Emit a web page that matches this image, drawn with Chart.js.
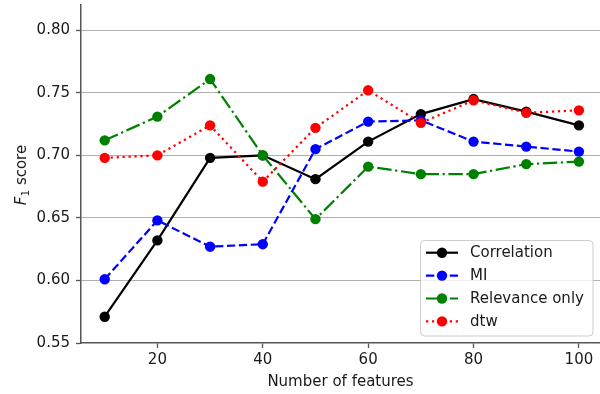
<!DOCTYPE html>
<html><head><meta charset="utf-8">
<script src="https://cdn.jsdelivr.net/npm/chart.js@4"></script>
<style>html,body{margin:0;padding:0;background:#fff;overflow:hidden}#wrap{width:600px;height:394px;position:relative}</style>
</head><body><div id="wrap"><canvas id="c" width="600" height="394"></canvas></div>
<script>
const features = [10, 20, 30, 40, 50, 60, 70, 80, 90, 100];
const correlation = [0.571, 0.632, 0.698, 0.700, 0.681, 0.711, 0.733, 0.745, 0.735, 0.724];
const mi = [0.601, 0.648, 0.627, 0.629, 0.705, 0.727, 0.728, 0.711, 0.707, 0.703];
const relevanceOnly = [0.712, 0.731, 0.761, 0.700, 0.649, 0.691, 0.685, 0.685, 0.693, 0.695];
const dtw = [0.698, 0.700, 0.724, 0.679, 0.722, 0.752, 0.726, 0.744, 0.734, 0.736];
const seriesNames = ['Correlation', 'MI', 'Relevance only', 'dtw'];
const xTicks = [20, 40, 60, 80, 100];
const yTicks = [0.55, 0.60, 0.65, 0.70, 0.75, 0.80];
const xLabel = 'Number of features';
const yLabelParts = ['F', '1', ' score'];

const FONT = "'DejaVu Sans', sans-serif";
const TXT = '#1a1a1a';
const SPINE = '#555555';
const LW = 2.2;
const PR = 5.2;

function pts(arr) { return features.map((x, i) => ({ x: x, y: arr[i] })); }

const datasets = [
  { label: seriesNames[0], data: pts(correlation), borderColor: '#000000', backgroundColor: '#000000', borderDash: [], order: 3 },
  { label: seriesNames[1], data: pts(mi), borderColor: '#0000ff', backgroundColor: '#0000ff', borderDash: [8.3, 3.6], order: 2 },
  { label: seriesNames[2], data: pts(relevanceOnly), borderColor: '#008000', backgroundColor: '#008000', borderDash: [14.4, 3.6, 2.25, 3.6], order: 1 },
  { label: seriesNames[3], data: pts(dtw), borderColor: '#ff0000', backgroundColor: '#ff0000', borderDash: [2.25, 3.7], order: 0 }
];

const extras = {
  id: 'extras',
  afterDraw(chart) {
    const ctx = chart.ctx;
    // y-axis title with subscript
    ctx.save();
    ctx.translate(26, 175);
    ctx.rotate(-Math.PI / 2);
    ctx.fillStyle = TXT;
    ctx.textBaseline = 'alphabetic';
    ctx.textAlign = 'left';
    const fF = 'italic 15px ' + FONT, fS = '10.5px ' + FONT, fN = '15px ' + FONT;
    ctx.font = fF; const w1 = ctx.measureText(yLabelParts[0]).width;
    ctx.font = fS; const w2 = ctx.measureText(yLabelParts[1]).width;
    ctx.font = fN; const w3 = ctx.measureText(yLabelParts[2]).width;
    let x0 = -(w1 + w2 + w3) / 2;
    ctx.font = fF; ctx.fillText(yLabelParts[0], x0, 0);
    ctx.font = fS; ctx.fillText(yLabelParts[1], x0 + w1, 3);
    ctx.font = fN; ctx.fillText(yLabelParts[2], x0 + w1 + w2, 0);
    ctx.restore();

    // legend
    ctx.save();
    const bx = 420.5, by = 240.5, bw = 172.5, bh = 95.5, r = 4;
    ctx.beginPath();
    ctx.roundRect(bx, by, bw, bh, r);
    ctx.fillStyle = 'rgba(255,255,255,0.8)';
    ctx.fill();
    ctx.strokeStyle = '#cccccc';
    ctx.lineWidth = 1;
    ctx.stroke();
    chart.data.datasets.forEach((ds, i) => {
      const cy = 252.7 + i * 22.9;
      ctx.beginPath();
      ctx.setLineDash(ds.borderDash || []);
      ctx.lineCap = 'butt';
      ctx.strokeStyle = ds.borderColor;
      ctx.lineWidth = LW;
      ctx.moveTo(426, cy);
      ctx.lineTo(458, cy);
      ctx.stroke();
      ctx.setLineDash([]);
      ctx.beginPath();
      ctx.arc(442, cy, PR, 0, Math.PI * 2);
      ctx.fillStyle = ds.backgroundColor;
      ctx.fill();
      ctx.fillStyle = TXT;
      ctx.font = '15px ' + FONT;
      ctx.textBaseline = 'middle';
      ctx.textAlign = 'left';
      ctx.fillText(ds.label, 470, cy + 0.5);
    });
    ctx.restore();
  }
};

new Chart(document.getElementById('c'), {
  type: 'line',
  data: { datasets: datasets },
  options: {
    responsive: false,
    animation: false,
    devicePixelRatio: 1,
    layout: { autoPadding: false, padding: { left: 0, right: 0, top: 5, bottom: 0 } },
    plugins: { legend: { display: false }, tooltip: { enabled: false } },
    elements: {
      line: { borderWidth: LW, tension: 0, borderCapStyle: 'butt', fill: false },
      point: { radius: PR, borderWidth: 0, hoverRadius: PR, pointStyle: 'circle' }
    },
    scales: {
      x: {
        type: 'linear', min: 5.5, max: 104,
        afterBuildTicks: s => { s.ticks = xTicks.map(v => ({ value: v })); },
        afterFit: s => { s.height = 51; s.paddingLeft = 0; s.paddingRight = 0; },
        grid: { drawOnChartArea: false, drawTicks: true, tickLength: 5, tickColor: SPINE, tickWidth: 1.3 },
        border: { color: SPINE, width: 1.5 },
        ticks: { font: { family: FONT, size: 15 }, color: TXT, padding: 3, maxRotation: 0, autoSkip: false },
        title: { display: true, text: xLabel, font: { family: FONT, size: 15 }, color: TXT, padding: { top: 0, bottom: 3 } }
      },
      y: {
        type: 'linear', min: 0.55, max: 0.8202,
        afterBuildTicks: s => { s.ticks = yTicks.map(v => ({ value: v })); },
        afterFit: s => { s.width = 81; s.paddingTop = 0; s.paddingBottom = 0; },
        grid: {
          color: c => (c.tick && Math.abs(c.tick.value - 0.55) < 1e-6) ? 'rgba(0,0,0,0)' : '#b0b0b0',
          lineWidth: 1, drawTicks: true, tickLength: 5, tickColor: SPINE, tickWidth: 1.3
        },
        border: { color: SPINE, width: 1.5 },
        ticks: { font: { family: FONT, size: 15 }, color: TXT, padding: 6, callback: v => Number(v).toFixed(2) }
      }
    }
  },
  plugins: [extras]
});
</script></body></html>
